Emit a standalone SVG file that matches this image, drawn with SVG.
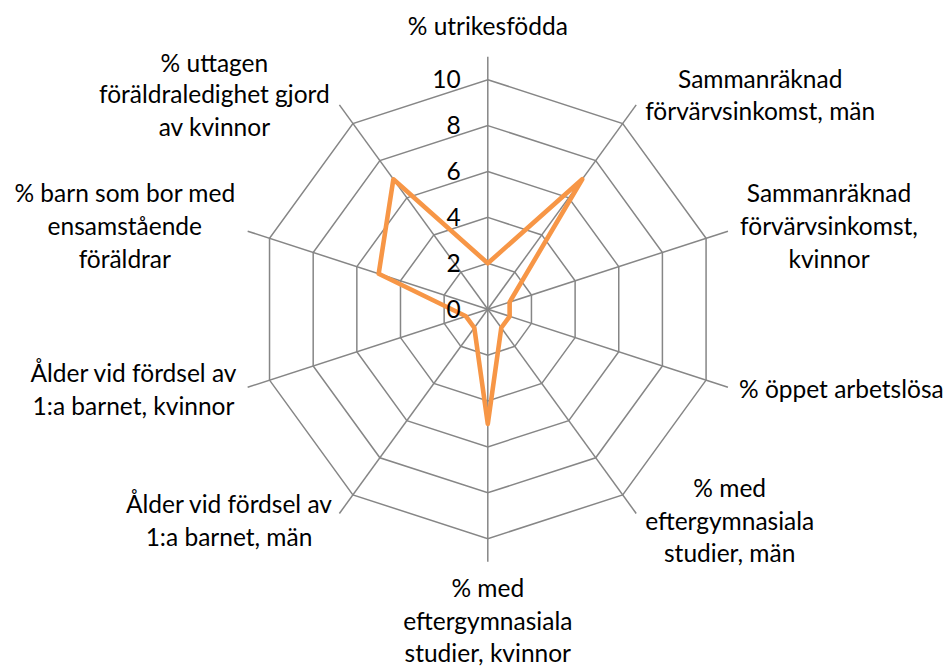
<svg xmlns="http://www.w3.org/2000/svg" width="948" height="668" viewBox="0 0 948 668">
<style>
.grid{fill:none;stroke:#868686;stroke-width:1.5}
.axis{stroke:#868686;stroke-width:1.5}
.series{fill:none;stroke:#F79646;stroke-width:4.6;stroke-linejoin:round;stroke-linecap:round}
text{font-family:Lato,"Open Sans","Liberation Sans",sans-serif;font-size:24.5px;fill:#000}
.c{text-anchor:middle}
.tick{text-anchor:end}
</style>
<rect x="0" y="0" width="948" height="668" fill="#fff"/>
<g id="plot" transform="translate(487.8,309.2)">
  <g id="rings">
    <polygon class="grid" points="0,-45.9 26.98,-37.13 43.65,-14.18 43.65,14.18 26.98,37.13 0,45.9 -26.98,37.13 -43.65,14.18 -43.65,-14.18 -26.98,-37.13"/>
    <polygon class="grid" points="0,-91.8 53.96,-74.27 87.31,-28.37 87.31,28.37 53.96,74.27 0,91.8 -53.96,74.27 -87.31,28.37 -87.31,-28.37 -53.96,-74.27"/>
    <polygon class="grid" points="0,-137.7 80.94,-111.4 130.96,-42.55 130.96,42.55 80.94,111.4 0,137.7 -80.94,111.4 -130.96,42.55 -130.96,-42.55 -80.94,-111.4"/>
    <polygon class="grid" points="0,-183.6 107.92,-148.54 174.61,-56.74 174.61,56.74 107.92,148.54 0,183.6 -107.92,148.54 -174.61,56.74 -174.61,-56.74 -107.92,-148.54"/>
    <polygon class="grid" points="0,-229.5 134.9,-185.67 218.27,-70.92 218.27,70.92 134.9,185.67 0,229.5 -134.9,185.67 -218.27,70.92 -218.27,-70.92 -134.9,-185.67"/>
  </g>
  <g id="axes">
    <line class="axis" x1="0" y1="0" x2="0" y2="-252.5"/>
    <line class="axis" x1="0" y1="0" x2="148.41" y2="-204.27"/>
    <line class="axis" x1="0" y1="0" x2="240.14" y2="-78.03"/>
    <line class="axis" x1="0" y1="0" x2="240.14" y2="78.03"/>
    <line class="axis" x1="0" y1="0" x2="148.41" y2="204.27"/>
    <line class="axis" x1="0" y1="0" x2="0" y2="252.5"/>
    <line class="axis" x1="0" y1="0" x2="-148.41" y2="204.27"/>
    <line class="axis" x1="0" y1="0" x2="-240.14" y2="78.03"/>
    <line class="axis" x1="0" y1="0" x2="-240.14" y2="-78.03"/>
    <line class="axis" x1="0" y1="0" x2="-148.41" y2="-204.27"/>
  </g>
  <g id="series">
    <polygon class="series" points="0,-45.9 94.43,-129.97 21.83,-7.09 21.83,7.09 13.49,18.57 0,114.75 -13.49,18.57 -21.83,7.09 -109.13,-35.46 -94.43,-129.97"/>
  </g>
</g>
<g id="ticks">
  <text class="tick" x="460.7" y="88">10</text>
  <text class="tick" x="460.7" y="134">8</text>
  <text class="tick" x="460.7" y="180">6</text>
  <text class="tick" x="460.7" y="226.3">4</text>
  <text class="tick" x="460.7" y="272.3">2</text>
  <text class="tick" x="460.7" y="318.3">0</text>
</g>
<g id="label-utrikesfodda"><text class="c" x="487.8" y="35">% utrikesfödda</text></g>
<g id="label-inkomst-man"><text class="c"><tspan x="760.2" y="87.7">Sammanräknad</tspan><tspan x="760.2" y="119.5">förvärvsinkomst, män</tspan></text></g>
<g id="label-inkomst-kvinnor"><text class="c"><tspan x="829" y="202.3">Sammanräknad</tspan><tspan x="829" y="235">förvärvsinkomst,</tspan><tspan x="829" y="267.7">kvinnor</tspan></text></g>
<g id="label-arbetslosa"><text x="739" y="398">% öppet arbetslösa</text></g>
<g id="label-eftergym-man"><text class="c"><tspan x="729.7" y="497.3">% med</tspan><tspan x="729.7" y="529.5">eftergymnasiala</tspan><tspan x="729.7" y="562.3">studier, män</tspan></text></g>
<g id="label-eftergym-kvinnor"><text class="c"><tspan x="487.8" y="597.3">% med</tspan><tspan x="487.8" y="630">eftergymnasiala</tspan><tspan x="487.8" y="662.3">studier, kvinnor</tspan></text></g>
<g id="label-alder-man"><text class="c"><tspan x="229" y="513.3">Ålder vid fördsel av</tspan><tspan x="229" y="546">1:a barnet, män</tspan></text></g>
<g id="label-alder-kvinnor"><text class="c"><tspan x="133.5" y="381.7">Ålder vid fördsel av</tspan><tspan x="133.5" y="414.7">1:a barnet, kvinnor</tspan></text></g>
<g id="label-ensamstaende"><text class="c"><tspan x="124.8" y="202.3">% barn som bor med</tspan><tspan x="124.8" y="235">ensamstående</tspan><tspan x="124.8" y="267.7">föräldrar</tspan></text></g>
<g id="label-foraldraledighet"><text class="c"><tspan x="214.4" y="71.7">% uttagen</tspan><tspan x="214.4" y="103.3">föräldraledighet gjord</tspan><tspan x="214.4" y="136">av kvinnor</tspan></text></g>
</svg>
